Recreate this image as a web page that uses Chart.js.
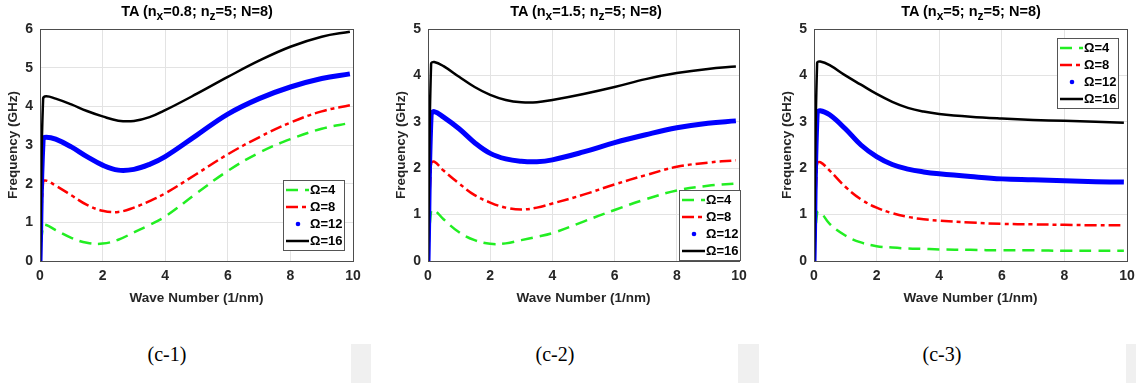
<!DOCTYPE html>
<html>
<head>
<meta charset="utf-8">
<script src="https://cdn.jsdelivr.net/npm/chart.js@4.4.1/dist/chart.umd.min.js"></script>
<style>
  body { margin: 0; width: 1142px; height: 383px; background: #fff; position: relative; overflow: hidden; }
  canvas { position: absolute; top: 0; }
  .ttl { position: absolute; top: 3px; font: bold 14.5px "Liberation Sans", Arial, sans-serif; color: #000; white-space: nowrap; transform: translateX(-50%); }
  .ttl sub { font-size: 12px; vertical-align: -4px; line-height: 0; }
  .cap { position: absolute; top: 343px; font: 20px "Liberation Serif", "Times New Roman", serif; color: #000; transform: translateX(-50%); }
  .pad { position: absolute; top: 344px; height: 39px; background: #f0f0f0; }
</style>
</head>
<body>
<canvas id="chart-1" width="380" height="310" style="left:0px"></canvas>
<canvas id="chart-2" width="380" height="310" style="left:388px"></canvas>
<canvas id="chart-3" width="368" height="310" style="left:774px"></canvas>

<div class="ttl" style="left:197px">TA (n<sub>x</sub>=0.8; n<sub>z</sub>=5; N=8)</div>
<div class="ttl" style="left:586px">TA (n<sub>x</sub>=1.5; n<sub>z</sub>=5; N=8)</div>
<div class="ttl" style="left:971px">TA (n<sub>x</sub>=5; n<sub>z</sub>=5; N=8)</div>

<div class="cap" style="left:167px">(c-1)</div>
<div class="cap" style="left:555px">(c-2)</div>
<div class="cap" style="left:942px">(c-3)</div>
<div class="pad" style="left:351px;width:20px"></div>
<div class="pad" style="left:738px;width:21px"></div>
<div class="pad" style="left:1126px;width:10px"></div>

<script>
// wave number samples (1/nm)
const waveNumber = [0, 0.1, 0.2, 0.5, 1, 1.5, 2, 2.5, 3, 3.5, 4, 5, 6, 7, 8, 9, 9.9];
const omegaLabels = ['Ω=4', 'Ω=8', 'Ω=12', 'Ω=16'];
const xTicks = [0, 2, 4, 6, 8, 10];

// (c-1) nx=0.8
const c1_om4  = [0, 0.92, 0.93, 0.80, 0.60, 0.47, 0.45, 0.55, 0.74, 0.93, 1.15, 1.75, 2.33, 2.80, 3.15, 3.42, 3.57];
const c1_om8  = [0, 2.05, 2.08, 1.95, 1.70, 1.45, 1.30, 1.27, 1.38, 1.55, 1.75, 2.25, 2.76, 3.20, 3.58, 3.87, 4.03];
const c1_om12 = [0, 3.15, 3.20, 3.15, 2.95, 2.70, 2.48, 2.35, 2.37, 2.50, 2.70, 3.25, 3.80, 4.20, 4.50, 4.72, 4.84];
const c1_om16 = [0, 4.20, 4.26, 4.20, 4.05, 3.88, 3.74, 3.63, 3.62, 3.72, 3.90, 4.32, 4.76, 5.18, 5.54, 5.80, 5.93];

// (c-2) nx=1.5
const c2_om4  = [0, 1.08, 1.10, 0.90, 0.62, 0.45, 0.37, 0.38, 0.45, 0.52, 0.60, 0.85, 1.10, 1.33, 1.52, 1.62, 1.67];
const c2_om8  = [0, 2.10, 2.14, 1.95, 1.67, 1.42, 1.26, 1.15, 1.11, 1.15, 1.24, 1.43, 1.65, 1.85, 2.03, 2.12, 2.17];
const c2_om12 = [0, 3.15, 3.22, 3.10, 2.85, 2.55, 2.32, 2.20, 2.15, 2.14, 2.18, 2.35, 2.55, 2.72, 2.87, 2.97, 3.02];
const c2_om16 = [0, 4.25, 4.29, 4.20, 3.97, 3.75, 3.58, 3.47, 3.42, 3.42, 3.47, 3.60, 3.75, 3.92, 4.05, 4.14, 4.19];

// (c-3) nx=5
const c3_om4  = [0, 1.04, 1.06, 0.80, 0.55, 0.40, 0.32, 0.29, 0.27, 0.26, 0.25, 0.24, 0.23, 0.23, 0.22, 0.22, 0.22];
const c3_om8  = [0, 2.10, 2.13, 1.95, 1.60, 1.33, 1.15, 1.03, 0.95, 0.90, 0.87, 0.83, 0.80, 0.79, 0.78, 0.77, 0.77];
const c3_om12 = [0, 3.18, 3.24, 3.15, 2.85, 2.50, 2.25, 2.08, 1.98, 1.92, 1.88, 1.82, 1.77, 1.75, 1.73, 1.71, 1.70];
const c3_om16 = [0, 4.27, 4.30, 4.22, 4.00, 3.80, 3.60, 3.43, 3.30, 3.22, 3.17, 3.11, 3.07, 3.04, 3.02, 3.00, 2.98];

const FONT = '"Liberation Sans", Arial, sans-serif';

// box around the axes + matlab style legend inside the plot
const boxLegend = {
    id: 'boxLegend',
    afterDraw(chart, args, opts) {
        const ctx = chart.ctx;
        const a = chart.chartArea;
        ctx.save();
        ctx.strokeStyle = '#4d4d4d';
        ctx.lineWidth = 1;
        ctx.strokeRect(Math.round(a.left) + 0.5, Math.round(a.top) + 0.5, Math.round(a.right - a.left), Math.round(a.bottom - a.top));

        const ds = chart.data.datasets;
        const x0 = opts.left, y0 = opts.top, w = 61, rowH = 17;
        const h = rowH * ds.length + 2;
        ctx.fillStyle = '#fff';
        ctx.fillRect(x0, y0, w, h);
        ctx.strokeStyle = '#555';
        ctx.strokeRect(x0 + 0.5, y0 + 0.5, w, h);
        for (let i = 0; i < ds.length; ++i) {
            const d = ds[i];
            const cy = y0 + 10 + i * rowH;
            if (d.legendDot) {
                ctx.fillStyle = d.borderColor;
                ctx.beginPath();
                ctx.arc(x0 + 15, cy, 2.3, 0, 2 * Math.PI);
                ctx.fill();
            } else {
                ctx.strokeStyle = d.borderColor;
                ctx.lineWidth = 2.5;
                ctx.setLineDash(d.borderDash || []);
                ctx.beginPath();
                ctx.moveTo(x0 + 3, cy);
                ctx.lineTo(x0 + 26, cy);
                ctx.stroke();
                ctx.setLineDash([]);
            }
            ctx.fillStyle = '#000';
            ctx.font = 'bold 13px ' + FONT;
            ctx.textBaseline = 'middle';
            ctx.textAlign = 'left';
            ctx.fillText(d.label, x0 + 27, cy);
        }
        ctx.restore();
    }
};

function pts(ys) {
    return ys.map((y, i) => ({x: waveNumber[i], y: y}));
}

function makeChart(id, series, yMax, padRight, legendPos) {
    const styles = [
        {borderColor: '#22ee22', borderWidth: 2.5, borderDash: [12, 7], order: 4},
        {borderColor: '#ff0000', borderWidth: 2.5, borderDash: [12, 4, 4, 4], order: 3},
        {borderColor: '#0000ff', borderWidth: 5, legendDot: true, order: 2},
        {borderColor: '#000000', borderWidth: 2.5, order: 1}
    ];
    const datasets = [];
    for (let j = 0; j < series.length; ++j) {
        datasets.push(Object.assign({
            label: omegaLabels[j],
            data: pts(series[j]),
            pointRadius: 0,
            fill: false,
            tension: 0.4
        }, styles[j]));
    }
    const yTicks = [];
    for (let v = 0; v <= yMax; v++) yTicks.push(v);

    return new Chart(document.getElementById(id).getContext('2d'), {
        type: 'line',
        data: { datasets: datasets },
        options: {
            responsive: false,
            animation: false,
            devicePixelRatio: 1,
            layout: { padding: { top: 29, right: padRight, left: 0, bottom: 0 } },
            plugins: {
                legend: { display: false },
                tooltip: { enabled: false },
                boxLegend: legendPos
            },
            scales: {
                x: {
                    type: 'linear', min: 0, max: 10,
                    afterBuildTicks: s => { s.ticks = xTicks.map(v => ({value: v})); },
                    afterFit: s => { s.height = 49; },
                    grid: { color: '#e3e3e3', drawTicks: false },
                    border: { display: false },
                    ticks: { font: { family: FONT, size: 14, weight: 'bold' }, color: '#262626', padding: 7, maxRotation: 0 },
                    title: { display: true, text: 'Wave Number (1/nm)', font: { family: FONT, size: 13.5, weight: 'bold' }, color: '#262626', padding: { top: 0, bottom: 4 } }
                },
                y: {
                    min: 0, max: yMax,
                    afterBuildTicks: s => { s.ticks = yTicks.map(v => ({value: v})); },
                    afterFit: s => { s.width = 40; },
                    grid: { color: '#e3e3e3', drawTicks: false },
                    border: { display: false },
                    ticks: { font: { family: FONT, size: 14, weight: 'bold' }, color: '#262626', padding: 7 },
                    title: { display: true, text: 'Frequency (GHz)', font: { family: FONT, size: 13.5, weight: 'bold' }, color: '#262626', padding: { top: 5, bottom: 0 } }
                }
            }
        },
        plugins: [boxLegend]
    });
}

makeChart('chart-1', [c1_om4, c1_om8, c1_om12, c1_om16], 6, 27, {left: 283, top: 180});
makeChart('chart-2', [c2_om4, c2_om8, c2_om12, c2_om16], 5, 29, {left: 291, top: 190});
makeChart('chart-3', [c3_om4, c3_om8, c3_om12, c3_om16], 5, 15, {left: 283, top: 38});
</script>
</body>
</html>
